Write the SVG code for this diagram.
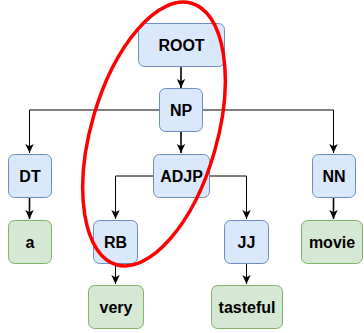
<svg xmlns="http://www.w3.org/2000/svg" width="364" height="333" viewBox="0 0 364 333">
<defs>
<style>
.b{fill:#dae8fc;stroke:#6c8ebf;stroke-width:1}
.g{fill:#d5e8d4;stroke:#82b366;stroke-width:1}
text{font-family:"Liberation Sans",Arial,Helvetica,sans-serif;font-size:16px;font-weight:bold;fill:#000;text-anchor:middle}
.e{fill:none;stroke:#000;stroke-width:1}
.t{fill:none;stroke:#000;stroke-width:1.6}
</style>
<marker id="ah" markerUnits="userSpaceOnUse" markerWidth="10" markerHeight="10" viewBox="0 0 10 10" refX="9" refY="5" orient="auto">
<path d="M0,0.8 L9,5 L0,9.2 L2.2,5 Z" fill="#000"/>
</marker>
</defs>
<g id="connectors">
<path class="t" d="M181,66 V88" marker-end="url(#ah)"/>
<path class="e" d="M159,110 H29.5 V153" marker-end="url(#ah)"/>
<path class="e" d="M202,110 H333.5 V153" marker-end="url(#ah)"/>
<path class="t" d="M181,131 V153" marker-end="url(#ah)"/>
<path class="e" d="M153,176 H115.5 V219" marker-end="url(#ah)"/>
<path class="e" d="M209,176 H246.5 V219" marker-end="url(#ah)"/>
<path class="t" d="M29.5,197 V219" marker-end="url(#ah)"/>
<path class="t" d="M333.5,197 V219" marker-end="url(#ah)"/>
<path class="e" d="M115.5,263 V284" marker-end="url(#ah)"/>
<path class="e" d="M246.5,263 V284" marker-end="url(#ah)"/>
</g>
<g id="root"><rect class="b" x="138.5" y="23.5" width="86" height="43" rx="6"/><text x="181.5" y="51">ROOT</text></g>
<g id="np"><rect class="b" x="159.5" y="88.5" width="43" height="43" rx="6"/><text x="181" y="116">NP</text></g>
<g id="dt"><rect class="b" x="8.5" y="154.5" width="43" height="43" rx="6"/><text x="30" y="182">DT</text></g>
<g id="adjp"><rect class="b" x="153.5" y="154.5" width="56" height="43" rx="6"/><text x="181.5" y="182">ADJP</text></g>
<g id="nn"><rect class="b" x="312.5" y="154.5" width="43" height="43" rx="6"/><text x="334" y="182">NN</text></g>
<g id="a"><rect class="g" x="8.5" y="220.5" width="43" height="43" rx="6"/><text x="30" y="248">a</text></g>
<g id="rb"><rect class="b" x="93.5" y="220.5" width="44" height="43" rx="6"/><text x="115.5" y="248">RB</text></g>
<g id="jj"><rect class="b" x="224.5" y="220.5" width="44" height="43" rx="6"/><text x="246.5" y="248">JJ</text></g>
<g id="movie"><rect class="g" x="301.5" y="220.5" width="61" height="43" rx="6"/><text x="332" y="248">movie</text></g>
<g id="very"><rect class="g" x="88.5" y="285.5" width="55" height="43" rx="6"/><text x="116" y="313">very</text></g>
<g id="tasteful"><rect class="g" x="211.5" y="285.5" width="71" height="43" rx="6"/><text x="247" y="313">tasteful</text></g>
<ellipse cx="154" cy="134" rx="63" ry="136" transform="rotate(16 154 134)" fill="none" stroke="#ff0000" stroke-width="3.5"/>
</svg>
